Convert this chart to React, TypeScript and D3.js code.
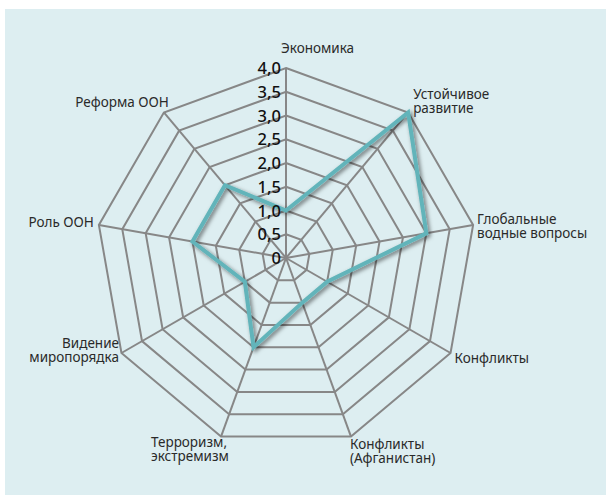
import { useEffect, useRef } from 'react';
import * as d3 from 'd3';

const categories = [
  'Экономика',
  'Устойчивое развитие',
  'Глобальные водные вопросы',
  'Конфликты',
  'Конфликты (Афганистан)',
  'Терроризм, экстремизм',
  'Видение миропорядка',
  'Роль ООН',
  'Реформа ООН',
];

// the label lines as printed
const labelLines = [
  ['Экономика'],
  ['Устойчивое', 'развитие'],
  ['Глобальные', 'водные вопросы'],
  ['Конфликты'],
  ['Конфликты', '(Афганистан)'],
  ['Терроризм,', 'экстремизм'],
  ['Видение', 'миропорядка'],
  ['Роль ООН'],
  ['Реформа ООН'],
];

const values = [1.0, 4.0, 3.0, 1.0, 1.0, 2.0, 1.0, 2.0, 2.0];

const levels = [0.5, 1.0, 1.5, 2.0, 2.5, 3.0, 3.5, 4.0];
const tickLabels = ['0', '0,5', '1,0', '1,5', '2,0', '2,5', '3,0', '3,5', '4,0'];

// label placement relative to the outer vertex: [anchor, dx, dy]
const labelPos: [string, number, number][] = [
  ['start', -5, -15],
  ['start', 5, -13],
  ['start', 4, -1],
  ['start', 4, 10],
  ['start', -1, 12.5],
  ['start', -70, 10.5],
  ['end', -2.5, -5],
  ['end', -5, 2],
  ['end', 5, -5],
];

const W = 606;
const H = 495;
const cx = 286;
const cy = 258;
const R = 190;

export default function App() {
  const ref = useRef<SVGSVGElement>(null);

  useEffect(() => {
    const svg = d3.select(ref.current);
    svg.selectAll('*').remove();

    const n = categories.length;
    const r = d3.scaleLinear().domain([0, 4]).range([0, R]);
    const angle = (i: number) => (i * 2 * Math.PI) / n;
    const pt = (i: number, v: number): [number, number] => [
      cx + r(v) * Math.sin(angle(i)),
      cy - r(v) * Math.cos(angle(i)),
    ];

    const defs = svg.append('defs');
    const f = defs
      .append('filter')
      .attr('id', 'shadow')
      .attr('x', '-20%')
      .attr('y', '-20%')
      .attr('width', '140%')
      .attr('height', '140%');
    f.append('feDropShadow')
      .attr('dx', 2)
      .attr('dy', 2)
      .attr('stdDeviation', 2)
      .attr('flood-color', '#000')
      .attr('flood-opacity', 0.55);

    svg
      .append('rect')
      .attr('x', 5)
      .attr('y', 9)
      .attr('width', W - 5)
      .attr('height', H - 9)
      .attr('fill', '#ddeef1');

    const g = svg.append('g');
    const line = d3.line().curve(d3.curveLinearClosed);

    // grid polygons
    g.selectAll('path.level')
      .data(levels)
      .enter()
      .append('path')
      .attr('class', 'level')
      .attr('d', (lv) => line(categories.map((_, i) => pt(i, lv))))
      .attr('fill', 'none')
      .attr('stroke', '#878787')
      .attr('stroke-width', 2);

    // spokes
    g.selectAll('line.spoke')
      .data(categories)
      .enter()
      .append('line')
      .attr('x1', cx)
      .attr('y1', cy)
      .attr('x2', (_, i) => pt(i, 4)[0])
      .attr('y2', (_, i) => pt(i, 4)[1])
      .attr('stroke', '#878787')
      .attr('stroke-width', 2);

    // data line
    g.append('path')
      .attr('d', line(values.map((v, i) => pt(i, v))))
      .attr('fill', 'none')
      .attr('stroke', '#62b4ba')
      .attr('stroke-width', 4)
      .attr('stroke-linejoin', 'miter')
      .attr('filter', 'url(#shadow)');

    // tick labels
    g.selectAll('text.tick')
      .data(tickLabels)
      .enter()
      .append('text')
      .attr('x', cx - 5)
      .attr('y', (_, i) => cy - r(i * 0.5) + 6)
      .attr('text-anchor', 'end')
      .attr('font-family', 'Noto Sans, sans-serif')
      .attr('font-size', 16.5)
      .attr('font-weight', 500)
      .attr('fill', '#111')
      .text((d) => d);

    // category labels
    categories.forEach((_, i) => {
      const [vx, vy] = pt(i, 4);
      const [anchor, dx, dy] = labelPos[i];
      const t = g
        .append('text')
        .attr('text-anchor', anchor)
        .attr('font-family', 'Noto Sans, sans-serif')
        .attr('font-size', 13.5)
        .attr('fill', '#2a2a2a');
      labelLines[i].forEach((ln, k) => {
        t.append('tspan')
          .attr('x', vx + dx)
          .attr('y', vy + dy + k * 13.5)
          .text(ln);
      });
    });
  }, []);

  return (
    <svg
      ref={ref}
      width={W}
      height={H}
      style={{ position: 'absolute', left: 0, top: 0 }}
    />
  );
}
